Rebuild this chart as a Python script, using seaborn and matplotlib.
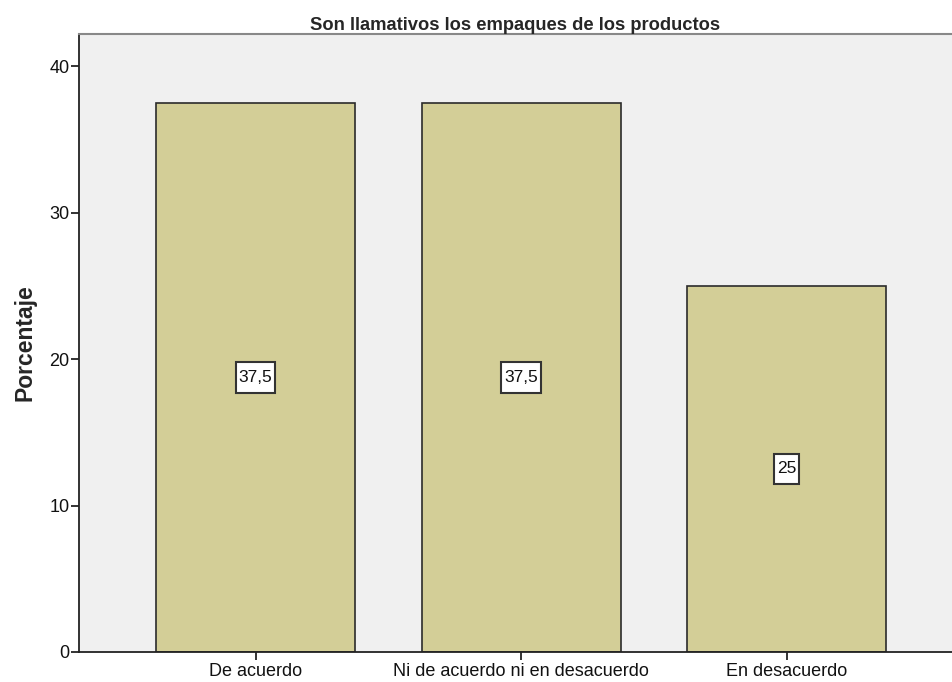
import numpy as np
import pandas as pd
import matplotlib
matplotlib.use("Agg")
import matplotlib.pyplot as plt
from matplotlib.path import Path
import seaborn as sns

categories = ["De acuerdo", "Ni de acuerdo ni en desacuerdo", "En desacuerdo"]
percentages = [37.5, 37.5, 25.0]
value_labels = ["37,5", "37,5", "25"]
y_ticks = [0, 10, 20, 30, 40]

sns.set_style("white")
plt.rcParams["font.family"] = ["Liberation Sans", "DejaVu Sans"]

df = pd.DataFrame({"cat": categories, "pct": percentages})


def label_box(x0, y0, width, height, mutation_size):
    # rectangle with more vertical padding than horizontal, like the SPSS labels
    px, py = 0.17 * mutation_size, 0.45 * mutation_size
    x0, y0 = x0 - px, y0 - py
    x1, y1 = x0 + width + 2 * px, y0 + height + 2 * py
    return Path([(x0, y0), (x1, y0), (x1, y1), (x0, y1), (x0, y0)], closed=True)


fig = plt.figure(figsize=(9.52, 6.82), dpi=100)
ax = fig.add_axes([79 / 952, 1 - 652 / 682, 1 - 79 / 952, (652 - 34) / 682])
ax.set_facecolor("#F0F0F0")

sns.barplot(data=df, x="cat", y="pct", color="#D3CE97", saturation=1,
            width=0.75, edgecolor="#2b2b2b", linewidth=1.2, ax=ax)

for i, (v, lab) in enumerate(zip(percentages, value_labels)):
    ax.text(i, v / 2, lab, ha="center", va="center", fontsize=12.5, color="#111111",
            bbox=dict(boxstyle=label_box, fc="white", ec="#333333", lw=1.5))

ax.set_xlim(-0.665, 2.623)
ax.set_ylim(0, 42.2)
ax.set_yticks(y_ticks)
ax.set_yticklabels([str(t) for t in y_ticks])
ax.tick_params(axis="both", labelsize=13, colors="#111111", length=6, width=1.2,
               direction="out", left=True, bottom=True)
ax.tick_params(axis="x", pad=2)
ax.tick_params(axis="y", pad=1)

for s in ["left", "bottom"]:
    ax.spines[s].set_color("#222222")
    ax.spines[s].set_linewidth(1.3)
ax.spines["top"].set_color("#888888")
ax.spines["top"].set_linewidth(1.5)
ax.spines["right"].set_visible(False)

ax.set_xlabel("")
ax.set_ylabel("Porcentaje", fontsize=16.5, fontweight="bold", labelpad=9)
ax.set_title("Son llamativos los empaques de los productos", fontsize=13.2,
             fontweight="bold", pad=3)

fig.savefig("out.png", dpi=100)
